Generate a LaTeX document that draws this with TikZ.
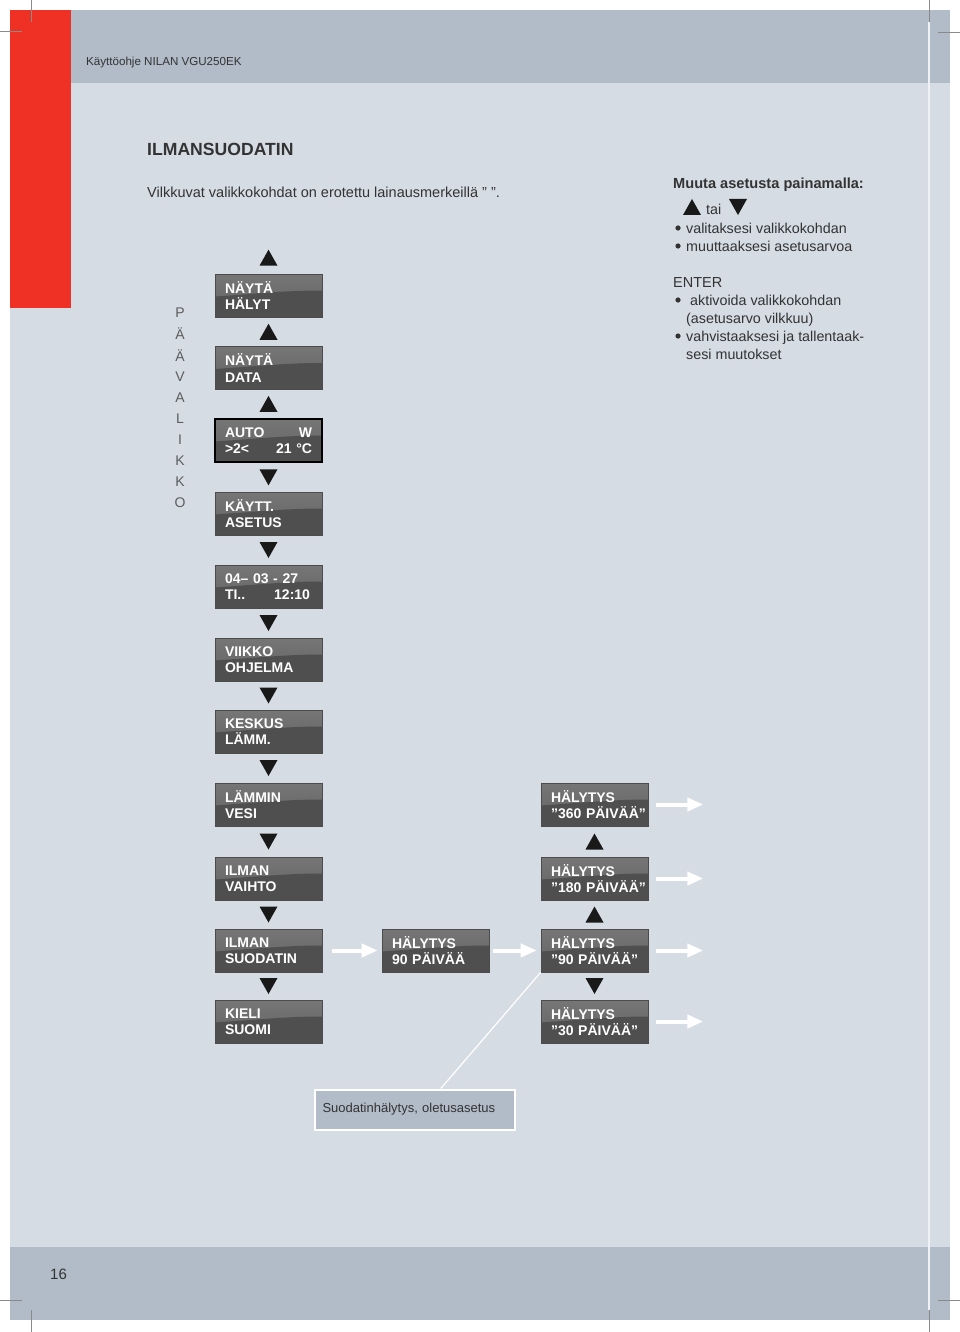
\documentclass[tikz,border=0pt]{standalone}
\usepackage{fontspec}
\setmainfont{Liberation Sans}
\usetikzlibrary{calc,arrows.meta}
\definecolor{redbar}{HTML}{EE3124}
\definecolor{band}{HTML}{B1BCC8}
\definecolor{pagebg}{HTML}{D5DCE4}
\definecolor{txt}{HTML}{333333}
\definecolor{boxtop}{HTML}{767676}
\definecolor{boxmid}{HTML}{626262}
\definecolor{boxlow}{HTML}{4F4F4F}
\definecolor{crop}{HTML}{8A8A8A}
\newcommand\triup[1]{\fill[black!90] (#1) ++(-9,8) -- ++(18,0) -- ++(-9,-16) -- cycle;}
\newcommand\tridn[1]{\fill[black!90] (#1) ++(-9,-8) -- ++(18,0) -- ++(-9,16) -- cycle;}
\tikzset{
  mbox/.style={rectangle, top color=boxtop, bottom color=boxmid, draw=gray!60!black, line width=0.6pt,
    minimum width=107pt, minimum height=43pt, text width=87pt, inner xsep=10pt, inner ysep=0pt,
    align=left, text=white, font=\fontsize{14}{16.5}\selectfont\bfseries,
    path picture={\fill[boxlow] ($(path picture bounding box.west)+(0,1)$)
      .. controls ($(path picture bounding box.center)+(-10,-2)$) and ($(path picture bounding box.center)+(20,-5)$) ..
      ($(path picture bounding box.east)+(0,-5)$) -- (path picture bounding box.south east)
      -- (path picture bounding box.south west) -- cycle;}},
  selbox/.style={mbox, draw=black, line width=2pt},
  warrow/.style={draw=white, line width=4pt, -{Triangle[length=16pt,width=13pt]}},
  note/.style={anchor=west, inner sep=0pt, yshift=-1.5pt, text height=10.5pt, text depth=3pt, text=txt, font=\fontsize{14.3}{16}\selectfont},
  dot/.style={circle, fill=txt, inner sep=0pt, minimum size=5.2pt},
  letter/.style={inner sep=0pt, text=txt!80, font=\fontsize{14}{16}\selectfont}
}
\begin{document}
\begin{tikzpicture}[x=1pt,y=-1pt]
\useasboundingbox (0,0) rectangle (960,1332);
\fill[white] (0,0) rectangle (960,1332);
% page panels
\fill[pagebg] (10,10) rectangle (950,1320);
\fill[band] (10,10) rectangle (950,83);
\fill[band] (10,1247) rectangle (950,1320);
\fill[redbar] (10,10) rectangle (71,308);
\draw[white!80!band, line width=1.2pt] (929,22) -- (929,1310);
% crop marks
\draw[crop, line width=0.6pt] (31,0) -- (31,22) (0,31) -- (22,31);
\draw[crop, line width=0.6pt] (929,0) -- (929,22) (938,32) -- (960,32);
\draw[crop, line width=0.6pt] (0,1300) -- (22,1300) (31,1310) -- (31,1332);
\draw[crop, line width=0.6pt] (938,1300) -- (960,1300) (929,1310) -- (929,1332);
% header / footer text
\node[note, font=\fontsize{11.6}{14}\selectfont] (hdr) at (86,60) {Käyttöohje NILAN VGU250EK};
\node[note, font=\fontsize{15}{17}\selectfont] (pg) at (50,1274) {16};
\node[note, text height=13pt, font=\fontsize{17.6}{19}\selectfont\bfseries] (title) at (147,149) {ILMANSUODATIN};
\node[note, font=\fontsize{14.5}{17}\selectfont] (sub) at (147,192) {Vilkkuvat valikkokohdat on erotettu lainausmerkeillä ” ”.};
% right info block
\node[note, font=\fontsize{14.6}{16}\selectfont\bfseries] (muuta) at (673,183) {Muuta asetusta painamalla:};
\triup{692,207}
\node[note] (tai) at (706,209) {tai};
\tridn{738,207}
\node[dot] (b1d) at (678,228) {};
\node[note] (b1t) at (686,228) {valitaksesi valikkokohdan};
\node[dot] (b2d) at (678,246) {};
\node[note] (b2t) at (686,246) {muuttaaksesi asetusarvoa};
\node[note, font=\fontsize{14.5}{16}\selectfont] (enter) at (673,282) {ENTER};
\node[dot] (b3d) at (678,300) {};
\node[note] (b3t) at (690,300) {aktivoida valikkokohdan};
\node[note] (b3u) at (686,318) {(asetusarvo vilkkuu)};
\node[dot] (b4d) at (678,336) {};
\node[note] (b4t) at (686,336) {vahvistaaksesi ja tallentaak-};
\node[note] (b4u) at (686,354) {sesi muutokset};
% vertical word
\foreach \c [count=\i from 0] in {P,Ä,Ä,V,A,L,I,K,K,O} {
  \node[letter] (v\i) at (180,313+21.1*\i) {\c};
}
% main column
\node[mbox] (m1) at (268.5,295.5) {NÄYTÄ\\HÄLYT};
\node[mbox] (m2) at (268.5,368) {NÄYTÄ\\DATA};
\node[selbox] (m3) at (268.5,440.5) {AUTO\hfill W\hspace*{1pt}\\>2<\hfill 21~°C};
\node[mbox] (m4) at (268.5,513.5) {KÄYTT.\\ASETUS};
\node[mbox] (m5) at (268.5,586.5) {04–~03~-~27\\TI..\hfill 12:10\hspace*{2pt}};
\node[mbox] (m6) at (268.5,659.5) {VIIKKO\\OHJELMA};
\node[mbox] (m7) at (268.5,731.5) {KESKUS\\LÄMM.};
\node[mbox] (m8) at (268.5,804.5) {LÄMMIN\\VESI};
\node[mbox] (m9) at (268.5,878.5) {ILMAN\\VAIHTO};
\node[mbox] (m10) at (268.5,950.5) {ILMAN\\SUODATIN};
\node[mbox] (m11) at (268.5,1021.5) {KIELI\\SUOMI};
\triup{$(m1.north)+(0,-16)$}
\triup{$(m1.south)!0.5!(m2.north)$}
\triup{$(m2.south)!0.5!(m3.north)$}
\tridn{$(m3.south)!0.5!(m4.north)$}
\tridn{$(m4.south)!0.5!(m5.north)$}
\tridn{$(m5.south)!0.5!(m6.north)$}
\tridn{$(m6.south)!0.5!(m7.north)$}
\tridn{$(m7.south)!0.5!(m8.north)$}
\tridn{$(m8.south)!0.5!(m9.north)$}
\tridn{$(m9.south)!0.5!(m10.north)$}
\tridn{$(m10.south)!0.5!(m11.north)$}
% middle
\node[mbox] (h90) at (435.5,950.5) {HÄLYTYS\\90~PÄIVÄÄ};
% right column
\node[mbox] (r360) at (594.5,804.5) {HÄLYTYS\\”360~PÄIVÄÄ”};
\node[mbox] (r180) at (594.5,878.5) {HÄLYTYS\\”180~PÄIVÄÄ”};
\node[mbox] (r90) at (594.5,950.5) {HÄLYTYS\\”90~PÄIVÄÄ”};
\node[mbox] (r30) at (594.5,1021.5) {HÄLYTYS\\”30~PÄIVÄÄ”};
\triup{$(r360.south)!0.5!(r180.north)$}
\triup{$(r180.south)!0.5!(r90.north)$}
\tridn{$(r90.south)!0.5!(r30.north)$}
% white arrows
\draw[warrow] ($(m10.east)+(10,0)$) -- ($(h90.west)+(-4,0)$);
\draw[warrow] ($(h90.east)+(4,0)$) -- ($(r90.west)+(-4,0)$);
\foreach \n in {r360,r180,r90,r30} {
  \coordinate (\n-end) at ($(\n.east)+(55,0)$);
  \draw[warrow] ($(\n.east)+(8,0)$) -- (\n-end);
}
% default note
\node[rectangle, fill=band, draw=white, line width=2pt, minimum width=200pt, minimum height=40pt,
  text width=184pt, inner xsep=8pt, align=left, text=txt, font=\fontsize{13}{15}\selectfont] (def) at (414.5,1109.5) {Suodatinhälytys, oletusasetus};
\draw[white, line width=1.2pt] (r90.south west) -- ($(def.north west)!0.63!(def.north east)$);
\end{tikzpicture}
\end{document}
